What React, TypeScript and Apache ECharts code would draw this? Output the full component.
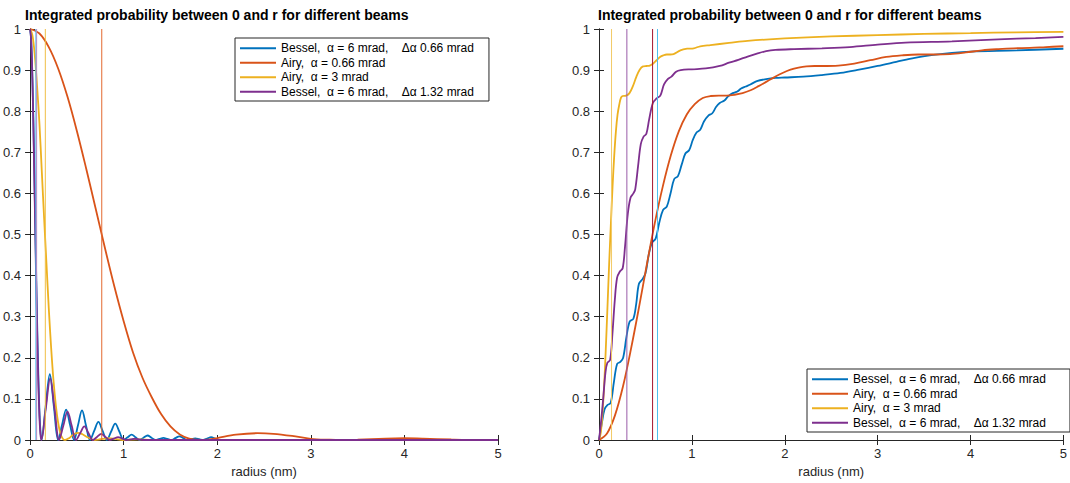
import React, { useEffect, useRef } from "react";
import * as echarts from "echarts";

// ---------- data ----------
const seriesNames = [
  "Bessel,  α = 6 mrad,    Δα 0.66 mrad",
  "Airy,  α = 0.66 mrad",
  "Airy,  α = 3 mrad",
  "Bessel,  α = 6 mrad,    Δα 1.32 mrad",
];

// Left panel: normalised intensity vs radius (nm)
const leftBessel066: [number, number][] = [
  [0, 1], [0.01, 0.98], [0.02, 0.924], [0.03, 0.834], [0.04, 0.722], [0.05, 0.599],
  [0.06, 0.471], [0.07, 0.347], [0.08, 0.236], [0.09, 0.143], [0.1, 0.071], [0.11, 0.025],
  [0.122, 0], [0.166, 0.08], [0.211, 0.16], [0.255, 0.08], [0.3, 0],
  [0.342, 0.037], [0.385, 0.074], [0.427, 0.037], [0.47, 0],
  [0.512, 0.036], [0.555, 0.072], [0.597, 0.036], [0.64, 0],
  [0.685, 0.022], [0.73, 0.044], [0.775, 0.022], [0.82, 0],
  [0.865, 0.02], [0.91, 0.04], [0.955, 0.02], [1.0, 0],
  [1.042, 0.0065], [1.085, 0.013], [1.127, 0.0065], [1.17, 0],
  [1.212, 0.0055], [1.255, 0.011], [1.297, 0.0055], [1.34, 0],
  [1.382, 0.0025], [1.425, 0.005], [1.467, 0.0025], [1.51, 0],
  [1.552, 0.0045], [1.595, 0.009], [1.637, 0.0045], [1.68, 0],
  [1.722, 0.002], [1.765, 0.004], [1.807, 0.002], [1.85, 0],
  [1.892, 0.0035], [1.935, 0.007], [1.977, 0.0035], [2.02, 0],
  [3.0, 0], [5.0, 0],
];
const leftAiry066: [number, number][] = [
  [0, 1], [0.1, 0.989], [0.2, 0.956], [0.3, 0.904], [0.4, 0.835], [0.5, 0.752],
  [0.6, 0.66], [0.7, 0.564], [0.8, 0.467], [0.9, 0.374], [1.0, 0.289], [1.1, 0.213],
  [1.2, 0.152], [1.3, 0.104], [1.4, 0.063], [1.5, 0.033], [1.6, 0.0135], [1.7, 0.0035],
  [1.82, 0], [1.9, 0.0011], [2.0, 0.0047], [2.2, 0.0129], [2.43, 0.0165], [2.6, 0.015],
  [2.8, 0.0098], [3.0, 0.0029], [3.2, 0.0006], [3.33, 0], [3.5, 0.0007], [3.8, 0.0034],
  [4.0, 0.0042], [4.2, 0.0034], [4.5, 0.0012], [4.82, 0], [5.0, 0.0002],
];
const leftAiry3: [number, number][] = [
  [0, 1], [0.025, 0.985], [0.05, 0.937], [0.075, 0.86], [0.1, 0.77], [0.125, 0.655],
  [0.15, 0.54], [0.175, 0.43], [0.2, 0.32], [0.225, 0.225], [0.25, 0.145], [0.275, 0.085],
  [0.3, 0.042], [0.325, 0.015], [0.35, 0.003], [0.375, 0], [0.42, 0.005], [0.46, 0.013],
  [0.51, 0.0175], [0.56, 0.014], [0.62, 0.006], [0.69, 0], [0.75, 0.0018], [0.83, 0.0042],
  [0.91, 0.0025], [0.99, 0], [1.15, 0.0015], [1.3, 0], [5.0, 0],
];
const leftBessel132: [number, number][] = [
  [0, 1], [0.01, 0.978], [0.02, 0.918], [0.03, 0.824], [0.04, 0.707], [0.05, 0.58],
  [0.06, 0.45], [0.07, 0.325], [0.08, 0.215], [0.09, 0.125], [0.1, 0.058], [0.11, 0.016],
  [0.12, 0], [0.167, 0.075], [0.215, 0.15], [0.262, 0.075], [0.31, 0],
  [0.355, 0.0345], [0.4, 0.069], [0.445, 0.0345], [0.49, 0],
  [0.535, 0.0165], [0.58, 0.033], [0.625, 0.0165], [0.67, 0],
  [0.715, 0.0075], [0.76, 0.015], [0.805, 0.0075], [0.85, 0],
  [0.895, 0.0035], [0.94, 0.007], [0.985, 0.0035], [1.03, 0],
  [1.075, 0.0015], [1.12, 0.003], [1.165, 0.0015], [1.21, 0],
  [3.0, 0], [5.0, 0],
];
const leftHalfRadius = [0.062, 0.766, 0.163, 0.07];

// Right panel: integrated probability between 0 and r
const rightBessel066: [number, number][] = [
  [0, 0], [0.03, 0.04], [0.06, 0.075], [0.09, 0.085], [0.125, 0.09], [0.16, 0.14],
  [0.195, 0.185], [0.23, 0.19], [0.26, 0.2], [0.295, 0.25], [0.33, 0.288], [0.37, 0.295],
  [0.4, 0.33], [0.43, 0.38], [0.47, 0.392], [0.5, 0.405], [0.535, 0.45], [0.57, 0.48],
  [0.61, 0.49], [0.65, 0.53], [0.69, 0.56], [0.73, 0.568], [0.77, 0.6], [0.81, 0.635],
  [0.85, 0.642], [0.89, 0.67], [0.93, 0.697], [0.97, 0.705], [1.01, 0.73], [1.05, 0.748],
  [1.09, 0.755], [1.13, 0.775], [1.18, 0.79], [1.22, 0.795], [1.26, 0.81], [1.3, 0.82],
  [1.35, 0.826], [1.39, 0.836], [1.44, 0.844], [1.49, 0.848], [1.53, 0.855], [1.58, 0.86],
  [1.63, 0.865], [1.7, 0.873], [1.8, 0.878], [1.9, 0.881], [2.0, 0.882], [2.2, 0.884],
  [2.4, 0.888], [2.6, 0.893], [2.8, 0.901], [3.0, 0.91], [3.2, 0.92], [3.4, 0.93],
  [3.6, 0.937], [3.8, 0.942], [4.0, 0.945], [4.5, 0.948], [5.0, 0.952],
];
const rightAiry066: [number, number][] = [
  [0, 0], [0.086, 0.016], [0.172, 0.06], [0.258, 0.13], [0.344, 0.221], [0.43, 0.322],
  [0.515, 0.427], [0.6, 0.527], [0.687, 0.617], [0.773, 0.692], [0.859, 0.751], [0.945, 0.792],
  [1.031, 0.817], [1.117, 0.832], [1.203, 0.837], [1.29, 0.838], [1.375, 0.838], [1.46, 0.84],
  [1.546, 0.844], [1.632, 0.851], [1.718, 0.861], [1.804, 0.872], [1.89, 0.883], [1.976, 0.893],
  [2.062, 0.901], [2.148, 0.906], [2.234, 0.909], [2.32, 0.91], [2.405, 0.91], [2.577, 0.911],
  [2.749, 0.916], [2.921, 0.924], [3.093, 0.932], [3.265, 0.936], [3.436, 0.938], [3.608, 0.938],
  [3.78, 0.939], [3.95, 0.943], [4.124, 0.948], [4.3, 0.951], [4.467, 0.953], [4.64, 0.954],
  [4.811, 0.956], [5.0, 0.958],
];
const rightAiry3: [number, number][] = [
  [0, 0], [0.018, 0.016], [0.036, 0.06], [0.055, 0.131], [0.073, 0.221], [0.091, 0.322],
  [0.109, 0.427], [0.128, 0.527], [0.146, 0.617], [0.164, 0.692], [0.182, 0.751], [0.2, 0.792],
  [0.219, 0.817], [0.237, 0.833], [0.255, 0.837], [0.292, 0.838], [0.328, 0.844], [0.365, 0.861],
  [0.401, 0.883], [0.438, 0.901], [0.474, 0.909], [0.511, 0.91], [0.547, 0.911], [0.584, 0.916],
  [0.62, 0.924], [0.657, 0.932], [0.693, 0.936], [0.73, 0.938], [0.766, 0.938], [0.803, 0.939],
  [0.876, 0.948], [0.949, 0.952], [1.02, 0.953], [1.09, 0.958], [1.2, 0.961], [1.4, 0.966],
  [1.6, 0.971], [2.0, 0.977], [2.5, 0.982], [3.0, 0.985], [3.5, 0.988], [4.0, 0.99],
  [4.5, 0.992], [5.0, 0.993],
];
const rightBessel132: [number, number][] = [
  [0, 0], [0.02, 0.04], [0.045, 0.1], [0.07, 0.165], [0.09, 0.188], [0.12, 0.195],
  [0.145, 0.26], [0.17, 0.34], [0.195, 0.395], [0.225, 0.41], [0.255, 0.418], [0.28, 0.47],
  [0.31, 0.55], [0.34, 0.59], [0.37, 0.6], [0.39, 0.61], [0.42, 0.665], [0.45, 0.72],
  [0.48, 0.738], [0.51, 0.745], [0.54, 0.78], [0.58, 0.82], [0.62, 0.831], [0.66, 0.838],
  [0.7, 0.865], [0.74, 0.878], [0.78, 0.884], [0.83, 0.896], [0.88, 0.9], [1.0, 0.902],
  [1.15, 0.904], [1.3, 0.91], [1.4, 0.918], [1.5, 0.925], [1.6, 0.933], [1.7, 0.94],
  [1.8, 0.946], [1.9, 0.949], [2.1, 0.951], [2.4, 0.953], [2.7, 0.956], [3.0, 0.962],
  [3.3, 0.967], [3.8, 0.97], [4.3, 0.975], [4.7, 0.978], [5.0, 0.981],
];
const rightHalfRadius = [0.63, 0.577, 0.135, 0.3];

const X_MIN = 0, X_MAX = 5, X_STEP = 1;
const Y_MIN = 0, Y_MAX = 1, Y_STEP = 0.1;
const TITLE = "Integrated probability between 0 and r for different beams";
const X_NAME = "radius (nm)";

// ---------- styles ----------
const FONT = "Liberation Sans, Arial, Helvetica, sans-serif";
const AX = "#262626";
const curveColors = ["#0072BD", "#D95319", "#EDB120", "#7E2F8E"];
const leftVColors = ["#4DBEEE", "#E3692F", "#F0BF45", "#B58CC4"];
const rightVColors = ["#4DBEEE", "#A2142F", "#F2CA66", "#9A5BA8"];

function axesFor(gi: number) {
  const common = { gridIndex: gi, type: "value" as const };
  const line = { show: true, lineStyle: { color: AX, width: 1 } };
  const tick = { show: true, inside: true, length: 5, lineStyle: { color: AX, width: 1 } };
  const x = [
    {
      ...common, position: "bottom", min: X_MIN, max: X_MAX, interval: X_STEP,
      axisLine: line, axisTick: tick, splitLine: { show: false },
      axisLabel: { margin: 7, fontSize: 13, color: AX, fontFamily: FONT },
      name: X_NAME, nameLocation: "middle", nameGap: 25,
      nameTextStyle: { fontSize: 13, color: AX, fontFamily: FONT },
    },
    {
      ...common, position: "top", min: X_MIN, max: X_MAX, interval: X_STEP,
      axisLine: line, axisTick: tick, splitLine: { show: false },
      axisLabel: { show: false },
    },
  ];
  const y = [
    {
      ...common, position: "left", min: Y_MIN, max: Y_MAX, interval: Y_STEP,
      axisLine: line, axisTick: tick, splitLine: { show: false },
      axisLabel: { margin: 9, fontSize: 13, color: AX, fontFamily: FONT },
    },
    {
      ...common, position: "right", min: Y_MIN, max: Y_MAX, interval: Y_STEP,
      axisLine: line, axisTick: tick, splitLine: { show: false },
      axisLabel: { show: false },
    },
  ];
  return { x, y };
}

export default function App() {
  const ref = useRef<HTMLDivElement>(null);
  useEffect(() => {
    if (!ref.current) return;
    const chart = echarts.init(ref.current, undefined, { renderer: "svg" });
    const a0 = axesFor(0);
    const a1 = axesFor(1);

    const leftData = [leftBessel066, leftAiry066, leftAiry3, leftBessel132];
    const rightData = [rightBessel066, rightAiry066, rightAiry3, rightBessel132];

    const series: any[] = [];
    const addPanel = (datas: [number, number][][], xi: number, yi: number, vr: number[], vc: string[]) => {
      datas.forEach((d, i) => {
        series.push({
          type: "line", name: seriesNames[i], data: d, xAxisIndex: xi, yAxisIndex: yi,
          showSymbol: false, smooth: 0.35, lineStyle: { width: 1.8, color: curveColors[i] },
          itemStyle: { color: curveColors[i] }, z: 2 + i * 0.01,
        });
      });
      vr.forEach((r, i) => {
        series.push({
          type: "line", name: "half-" + xi + "-" + i, data: [[r, Y_MIN], [r, Y_MAX]],
          xAxisIndex: xi, yAxisIndex: yi, showSymbol: false,
          lineStyle: { width: 1, color: vc[i] }, itemStyle: { color: vc[i] }, z: 3,
        });
      });
    };
    addPanel(leftData, 0, 0, leftHalfRadius, leftVColors);
    addPanel(rightData, 2, 2, rightHalfRadius, rightVColors);

    const legendCommon = {
      orient: "vertical", data: seriesNames, icon: "rect", itemWidth: 36, itemHeight: 2,
      itemGap: 0, backgroundColor: "#fff", borderColor: AX, borderWidth: 1, borderRadius: 0,
      selectedMode: false,
      textStyle: { fontSize: 12, color: "#000", fontFamily: FONT, lineHeight: 14.5 },
    };

    chart.setOption({
      animation: false,
      backgroundColor: "#fff",
      title: [
        { text: TITLE, left: 25, top: 8, padding: 0,
          textStyle: { fontSize: 14, fontWeight: "bold", color: "#000", fontFamily: FONT } },
        { text: TITLE, left: 598, top: 8, padding: 0,
          textStyle: { fontSize: 14, fontWeight: "bold", color: "#000", fontFamily: FONT } },
      ],
      grid: [
        { left: 28, top: 29, width: 470, height: 413, containLabel: false },
        { left: 599, top: 29, width: 470, height: 413, containLabel: false },
      ],
      xAxis: [...a0.x, ...a1.x],
      yAxis: [...a0.y, ...a1.y],
      legend: [
        { ...legendCommon, left: 235, top: 38, padding: [3, 15, 2, 5] },
        { ...legendCommon, left: 807, top: 369, padding: [3, 24, 2, 5] },
      ],
      series,
    });
    return () => chart.dispose();
  }, []);
  return (
    <div
      ref={ref}
      style={{ position: "absolute", left: 0, top: 0, width: 1070, height: 483, background: "#fff" }}
    />
  );
}
